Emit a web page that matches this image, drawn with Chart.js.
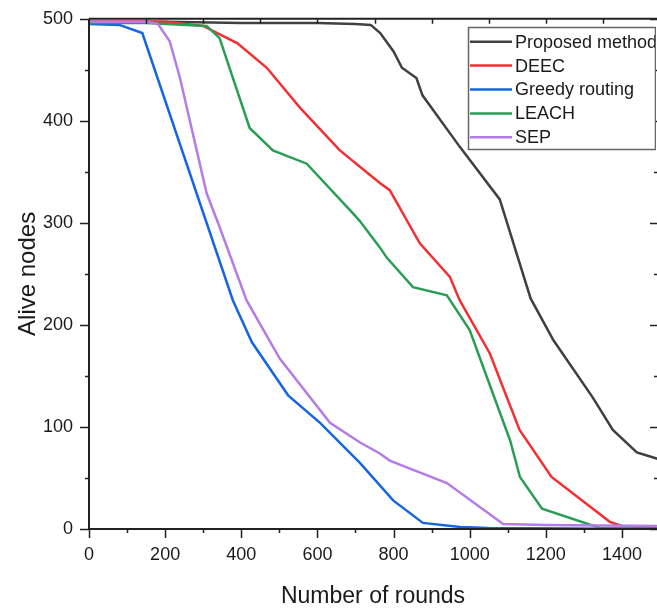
<!DOCTYPE html>
<html>
<head>
<meta charset="utf-8">
<script src="https://cdn.jsdelivr.net/npm/chart.js"></script>
<style>
  body { margin: 0; background: #fff; overflow: hidden; }
  #box { width: 657px; height: 608px; }
</style>
</head>
<body>
<div id="box"><canvas id="alive_nodes"></canvas></div>
<script>
// values
const seriesNames = ['Proposed method', 'DEEC', 'Greedy routing', 'LEACH', 'SEP'];
const seriesColors = ['#404040', '#f22f33', '#1566e0', '#2b9e55', '#b47ce6'];

const proposedRounds = [0, 200, 400, 600, 700, 740, 765, 800, 822, 860, 876, 975, 1079, 1160, 1220, 1323, 1376, 1439, 1500];
const proposedAlive  = [497, 497, 496, 496, 495, 494, 486, 468, 452, 442, 425, 374, 323, 226, 185, 129, 97, 75, 68];

const deecRounds = [0, 200, 300, 390, 467, 554, 659, 764, 790, 869, 948, 974, 1053, 1131, 1215, 1368, 1400, 1500];
const deecAlive  = [497, 497, 493, 476, 452, 413, 371, 339, 332, 280, 247, 224, 172, 97, 51, 7, 3, 1];

const greedyRounds = [0, 80, 140, 378, 428, 523, 607, 711, 799, 877, 975, 1050, 1500];
const greedyAlive  = [495, 494, 486, 224, 183, 131, 104, 65, 28, 6, 2, 1, 0];

const leachRounds = [0, 150, 309, 343, 422, 483, 572, 694, 711, 764, 782, 851, 940, 1000, 1045, 1106, 1132, 1190, 1342, 1500];
const leachAlive  = [496, 496, 493, 481, 393, 371, 358, 309, 302, 276, 266, 237, 229, 195, 149, 87, 51, 20, 1, 0];

const sepRounds = [0, 150, 181, 212, 239, 309, 343, 414, 501, 633, 711, 764, 790, 940, 1088, 1200, 1500];
const sepAlive  = [497, 497, 495, 478, 442, 329, 296, 224, 167, 104, 85, 74, 67, 45, 5, 4, 3];

const xTicks = [0, 200, 400, 600, 800, 1000, 1200, 1400];

const allRounds = [proposedRounds, deecRounds, greedyRounds, leachRounds, sepRounds];
const allAlive = [proposedAlive, deecAlive, greedyAlive, leachAlive, sepAlive];

Chart.defaults.font.family = '"Liberation Sans", Arial, sans-serif';
Chart.defaults.color = '#1a1a1a';

// frame with inner/outer tick marks like the Origin plot
const framePlugin = {
  id: 'frame',
  afterDatasetsDraw(chart) {
    const { ctx, chartArea: a, scales: { x, y } } = chart;
    ctx.save();
    ctx.strokeStyle = '#222';
    ctx.lineWidth = 2;
    ctx.beginPath();
    ctx.moveTo(a.left, a.top);
    ctx.lineTo(a.left, a.bottom);
    ctx.lineTo(a.right, a.bottom);
    ctx.moveTo(a.left, a.top);
    ctx.lineTo(a.right, a.top);
    ctx.stroke();

    ctx.lineWidth = 1.5;
    ctx.beginPath();
    for (let v = 0; v <= 1400; v += 100) {
      const px = Math.round(x.getPixelForValue(v)) + 0.5;
      const len = v % 200 === 0 ? 9 : 4;
      ctx.moveTo(px, a.bottom);
      ctx.lineTo(px, a.bottom + len);
    }
    for (let v = 0; v <= 500; v += 50) {
      const py = Math.round(y.getPixelForValue(v)) + 0.5;
      const len = v % 100 === 0 ? 9 : 4;
      ctx.moveTo(a.left - len, py);
      ctx.lineTo(a.left, py);
      const rl = v % 100 === 0 ? 7 : 3;
      ctx.moveTo(a.right - rl, py);
      ctx.lineTo(a.right, py);
    }
    for (let v = 150; v < 1500; v += 150) {
      const px = Math.round(x.getPixelForValue(v)) + 0.5;
      ctx.moveTo(px, a.top);
      ctx.lineTo(px, a.top + 5);
    }
    ctx.stroke();
    ctx.restore();
  }
};

// boxed legend inside the plot, top right
const legendPlugin = {
  id: 'boxLegend',
  afterDraw(chart) {
    const { ctx } = chart;
    ctx.save();
    ctx.beginPath();
    ctx.rect(0, 0, 656, 608);
    ctx.clip();
    ctx.fillStyle = '#fff';
    ctx.fillRect(468, 27, 188, 122);
    ctx.font = '18px "Liberation Sans", Arial, sans-serif';
    ctx.textBaseline = 'middle';
    chart.data.datasets.forEach((ds, i) => {
      const cy = 41.7 + i * 23.9;
      ctx.strokeStyle = ds.borderColor;
      ctx.lineWidth = 2.5;
      ctx.beginPath();
      ctx.moveTo(470, cy);
      ctx.lineTo(512, cy);
      ctx.stroke();
      ctx.fillStyle = '#1a1a1a';
      ctx.fillText(ds.label, 515, cy + 1);
    });
    ctx.strokeStyle = '#666';
    ctx.lineWidth = 1.5;
    ctx.strokeRect(468.5, 27.5, 187, 122);
    ctx.restore();
  }
};

new Chart('alive_nodes', {
  type: 'line',
  data: {
    datasets: seriesNames.map((name, i) => ({
      label: name,
      data: allRounds[i].map((r, k) => ({ x: r, y: allAlive[i][k] })),
      borderColor: seriesColors[i],
      borderWidth: 2.5,
      pointRadius: 0,
      tension: 0,
      order: seriesNames.length - i
    }))
  },
  options: {
    responsive: true,
    maintainAspectRatio: false,
    animation: false,
    layout: { padding: { top: 10, right: 0, left: 0, bottom: 0 } },
    plugins: { legend: { display: false }, tooltip: { enabled: false } },
    scales: {
      x: {
        type: 'linear',
        min: 0,
        max: 1492,
        afterBuildTicks: (s) => { s.ticks = xTicks.map(v => ({ value: v })); },
        afterFit: (s) => { s.height = 79; },
        grid: { display: false },
        border: { display: false },
        ticks: { font: { size: 18 }, padding: 7, maxRotation: 0, callback: (v) => String(v) },
        title: { display: true, text: 'Number of rounds', font: { size: 23 }, padding: { top: 0, bottom: -2 } }
      },
      y: {
        min: 0,
        max: 500,
        afterFit: (s) => { s.width = 89; },
        grid: { display: false },
        border: { display: false },
        ticks: { stepSize: 100, font: { size: 18 }, padding: 8, callback: (v) => String(v) },
        title: { display: true, text: 'Alive nodes', font: { size: 24 }, padding: { top: 14, bottom: 0 } }
      }
    }
  },
  plugins: [framePlugin, legendPlugin]
});
</script>
</body>
</html>
